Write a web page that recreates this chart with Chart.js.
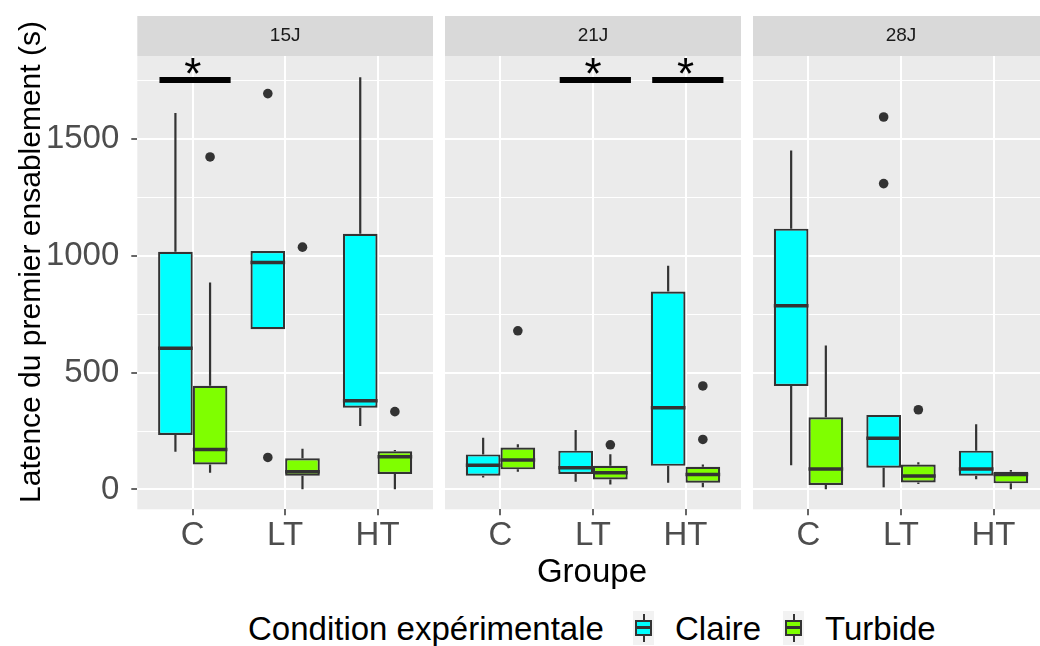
<!DOCTYPE html>
<html>
<head>
<meta charset="utf-8">
<script src="https://cdn.jsdelivr.net/npm/chart.js@4/dist/chart.umd.min.js"></script>
<style>
  body { margin: 0; width: 1040px; height: 646px; overflow: hidden; background: #fff;
         position: relative; font-family: "Liberation Sans", Arial, sans-serif; }
  canvas { position: absolute; top: 0; }
  .txt { position: absolute; white-space: nowrap; color: #000; }
  .key { position: absolute; top: 611px; width: 21px; height: 34px; background: #F2F2F2; }
  .key .wh { position: absolute; left: 9.5px; top: 3px; width: 2px; height: 28px; background: #333; }
  .key .bx { position: absolute; left: 2px; top: 9px; width: 13px; height: 12px; border: 2px solid #333; }
  .key .md { position: absolute; left: 2px; top: 15px; width: 17px; height: 3px; background: #333; }
</style>
</head>
<body>
<canvas id="p0" width="433" height="560" style="left:0px"></canvas>
<canvas id="p1" width="296" height="560" style="left:445px"></canvas>
<canvas id="p2" width="296" height="560" style="left:753px"></canvas>

<div class="txt" id="ytitle" style="font-size:30px;line-height:30px;width:520px;text-align:center;left:-230px;top:247px;transform:rotate(-90deg);">Latence du premier ensablement (s)</div>
<div class="txt" style="font-size:33px;line-height:33px;width:300px;text-align:center;left:442px;top:554px;">Groupe</div>
<div class="txt" style="font-size:33px;line-height:33px;left:248px;top:612px;">Condition expérimentale</div>
<div class="key" style="left:633px;"><div class="wh"></div><div class="bx" style="background:#00FFFF"></div><div class="md"></div></div>
<div class="txt" style="font-size:33px;line-height:33px;left:675px;top:612px;">Claire</div>
<div class="key" style="left:783px;"><div class="wh"></div><div class="bx" style="background:#7FFF00"></div><div class="md"></div></div>
<div class="txt" style="font-size:33px;line-height:33px;left:825px;top:612px;">Turbide</div>

<script>
// facets, groups and conditions
const days = ['15J', '21J', '28J'];
const groups = ['C', 'LT', 'HT'];
const conditions = ['Claire', 'Turbide'];
const colors = ['#00FFFF', '#7FFF00'];

// box stats, one row per day, one value per group (seconds)
const claireLow  = [[161, 686, 271], [51, 33, 29], [104, 9, 44]];
const claireQ1   = [[233, 686, 350], [59, 66, 101], [443, 93, 59]];
const claireMed  = [[604, 971, 380], [104, 93, 350], [786, 219, 87]];
const claireQ3   = [[1017, 1020, 1094], [150, 166, 847], [1116, 319, 166]];
const claireHigh = [[1611, 1020, 1764], [221, 254, 957], [1451, 319, 279]];
const claireOut  = [[[], [1694, 137], []], [[], [], []], [[], [1594, 1309], []]];

const turbideLow  = [[71, 1, 1], [76, 21, 9], [1, 23, 1]];
const turbideQ1   = [[107, 59, 66], [86, 43, 29], [19, 30, 26]];
const turbideMed  = [[171, 76, 140], [126, 71, 64], [87, 57, 64]];
const turbideQ3   = [[444, 133, 163], [179, 101, 97], [309, 107, 76]];
const turbideHigh = [[886, 174, 169], [193, 151, 107], [616, 116, 83]];
const turbideOut  = [[[1423], [1037], [333]], [[679], [191], [443, 214]], [[], [341], []]];

// y axis
const yMajor = [0, 500, 1000, 1500];
const yMinor = [250, 750, 1250, 1750];

// significance marks
const sigDay = ['15J', '21J', '21J'];
const sigGroup = ['C', 'LT', 'HT'];
const sigLabel = ['*', '*', '*'];
const sigValue = 1752;

const dodge = 0.1875;
Chart.defaults.font.family = '"Liberation Sans", Arial, sans-serif';

function boxData(q1, q3) {
    return groups.map((g, i) => ({ x: i + 1, y: [q1[i], q3[i]] }));
}

function outData(outs, shift) {
    const pts = [];
    outs.forEach((list, i) => list.forEach(v => pts.push({ x: i + 1 + shift, y: v })));
    return pts;
}

const panelPlugin = {
    id: 'panel',
    beforeDraw(chart, args, opts) {
        const { ctx, chartArea: a } = chart;
        ctx.save();
        ctx.fillStyle = '#EBEBEB';
        ctx.fillRect(a.left, a.top, a.right - a.left, a.bottom - a.top);
        ctx.fillStyle = '#D9D9D9';
        ctx.fillRect(a.left, a.top - 40, a.right - a.left, 40);
        ctx.fillStyle = '#1A1A1A';
        ctx.font = '19px "Liberation Sans", Arial, sans-serif';
        ctx.textAlign = 'center';
        ctx.textBaseline = 'middle';
        ctx.fillText(days[opts.day], (a.left + a.right) / 2, a.top - 20);
        ctx.restore();
    }
};

const boxPlugin = {
    id: 'boxes',
    beforeDatasetsDraw(chart, args, opts) {
        const { ctx } = chart;
        const ys = chart.scales.y;
        ctx.save();
        ctx.strokeStyle = '#333333';
        ctx.lineWidth = 2.2;
        opts.stats.forEach((st, k) => {
            const meta = chart.getDatasetMeta(2 + k);
            meta.data.forEach((el, i) => {
                const x = el.x;
                ctx.beginPath();
                ctx.moveTo(x, ys.getPixelForValue(st.high[i]));
                ctx.lineTo(x, ys.getPixelForValue(st.q3[i]));
                ctx.moveTo(x, ys.getPixelForValue(st.q1[i]));
                ctx.lineTo(x, ys.getPixelForValue(st.low[i]));
                ctx.stroke();
            });
        });
        ctx.restore();
    },
    afterDatasetsDraw(chart, args, opts) {
        const { ctx } = chart;
        const xs = chart.scales.x, ys = chart.scales.y;
        ctx.save();
        ctx.strokeStyle = '#333333';
        ctx.lineWidth = 3.5;
        opts.stats.forEach((st, k) => {
            const meta = chart.getDatasetMeta(2 + k);
            meta.data.forEach((el, i) => {
                const y = ys.getPixelForValue(st.med[i]);
                ctx.beginPath();
                ctx.moveTo(el.x - el.width / 2, y);
                ctx.lineTo(el.x + el.width / 2, y);
                ctx.stroke();
            });
        });
        // significance bars
        sigDay.forEach((d, k) => {
            if (d !== days[opts.day]) return;
            const g = groups.indexOf(sigGroup[k]) + 1;
            const y = ys.getPixelForValue(sigValue);
            ctx.strokeStyle = '#000';
            ctx.lineWidth = 6;
            ctx.beginPath();
            ctx.moveTo(xs.getPixelForValue(g - 0.36), y);
            ctx.lineTo(xs.getPixelForValue(g + 0.41), y);
            ctx.stroke();
            ctx.fillStyle = '#000';
            ctx.font = '44px "Liberation Sans", Arial, sans-serif';
            ctx.textAlign = 'center';
            ctx.textBaseline = 'alphabetic';
            ctx.fillText(sigLabel[k], xs.getPixelForValue(g), y + 9);
        });
        ctx.restore();
    }
};

function makeChart(d) {
    const first = d === 0;
    const stats = [
        { low: claireLow[d], q1: claireQ1[d], med: claireMed[d], q3: claireQ3[d], high: claireHigh[d] },
        { low: turbideLow[d], q1: turbideQ1[d], med: turbideMed[d], q3: turbideQ3[d], high: turbideHigh[d] }
    ];
    const pointStyle = { pointRadius: 4.8, pointBackgroundColor: '#333333', pointBorderWidth: 0, order: 0 };
    return new Chart(document.getElementById('p' + d), {
        type: 'bar',
        data: {
            datasets: [
                Object.assign({ type: 'scatter', label: 'out ' + conditions[0], data: outData(claireOut[d], -dodge) }, pointStyle),
                Object.assign({ type: 'scatter', label: 'out ' + conditions[1], data: outData(turbideOut[d], dodge) }, pointStyle),
                { label: conditions[0], data: boxData(claireQ1[d], claireQ3[d]), backgroundColor: colors[0],
                  borderColor: '#333333', borderWidth: 2.2, borderSkipped: false,
                  categoryPercentage: 0.75, barPercentage: 1, order: 1 },
                { label: conditions[1], data: boxData(turbideQ1[d], turbideQ3[d]), backgroundColor: colors[1],
                  borderColor: '#333333', borderWidth: 2.2, borderSkipped: false,
                  categoryPercentage: 0.75, barPercentage: 1, order: 1 }
            ]
        },
        options: {
            responsive: false,
            animation: false,
            layout: { autoPadding: false, padding: { top: 56, left: 0, right: 0, bottom: 0 } },
            plugins: {
                legend: { display: false },
                tooltip: { enabled: false },
                panel: { day: d },
                boxes: { day: d, stats: stats }
            },
            scales: {
                x: {
                    type: 'linear', min: 0.4, max: 3.6, offset: false,
                    afterBuildTicks: s => { s.ticks = groups.map((g, i) => ({ value: i + 1 })); },
                    ticks: { callback: v => groups[v - 1], font: { size: 33 }, color: '#4D4D4D',
                             padding: 1, maxRotation: 0, autoSkip: false },
                    grid: { color: '#FFFFFF', lineWidth: 2, tickColor: '#333333', tickLength: 6, tickWidth: 1.5, offset: false },
                    border: { display: false },
                    afterFit: s => { s.height = 560 - 509.3; }
                },
                y: {
                    type: 'linear', min: -85, max: 1855,
                    afterBuildTicks: s => { s.ticks = yMajor.concat(yMinor).sort((a, b) => a - b).map(v => ({ value: v })); },
                    ticks: { display: first, callback: v => yMajor.includes(v) ? String(v) : '',
                             font: { size: 33 }, color: '#4D4D4D', padding: 12, autoSkip: false },
                    grid: {
                        color: '#FFFFFF',
                        lineWidth: c => yMajor.includes(c.tick.value) ? 2 : 1,
                        tickColor: c => yMajor.includes(c.tick.value) ? '#333333' : 'rgba(0,0,0,0)',
                        drawTicks: first, tickLength: 6, tickWidth: 1.5
                    },
                    border: { display: false },
                    afterFit: s => { s.width = first ? 137.3 : 0; }
                }
            }
        },
        plugins: [panelPlugin, boxPlugin]
    });
}

days.forEach((d, i) => makeChart(i));
</script>
</body>
</html>
